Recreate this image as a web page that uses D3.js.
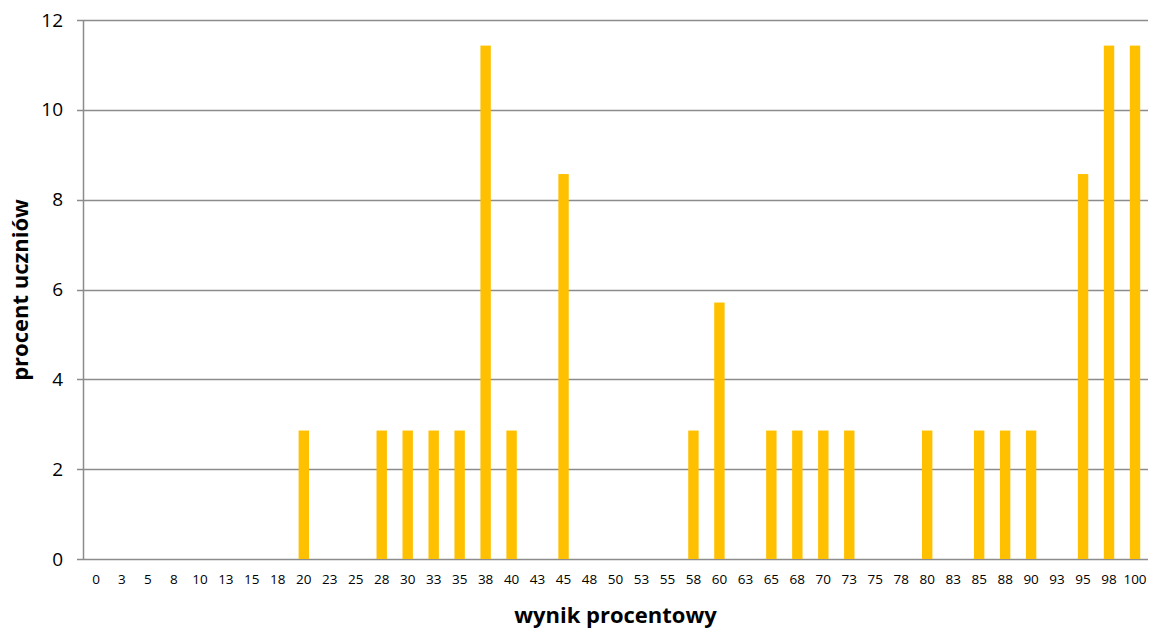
<!DOCTYPE html>
<html>
<head>
<meta charset="utf-8">
<script src="https://cdn.jsdelivr.net/npm/d3@7"></script>
<style>
  body { margin: 0; background: #fff; }
  svg { display: block; font-family: "Open Sans", Calibri, sans-serif; }
</style>
</head>
<body>
<div id="chart"></div>
<script>
// wynik procentowy (x categories)
var categories = ["0","3","5","8","10","13","15","18","20","23","25","28","30","33","35","38","40","43","45","48","50","53","55","58","60","63","65","68","70","73","75","78","80","83","85","88","90","93","95","98","100"];
// procent uczniów
var values = [0,0,0,0,0,0,0,0,2.86,0,0,2.86,2.86,2.86,2.86,11.43,2.86,0,8.57,0,0,0,0,2.86,5.71,0,2.86,2.86,2.86,2.86,0,0,2.86,0,2.86,2.86,2.86,0,8.57,11.43,11.43];
var yTicks = [0, 2, 4, 6, 8, 10, 12];

var width = 1151, height = 628;
var margin = { top: 20, right: 3, bottom: 69, left: 83 };
var innerW = width - margin.left - margin.right,
  innerH = height - margin.top - margin.bottom;

var svg = d3
  .select("#chart")
  .append("svg")
  .attr("width", width)
  .attr("height", height);

var g = svg
  .append("g")
  .attr("transform", "translate(" + margin.left + "," + margin.top + ")");

var x = d3.scaleBand().domain(categories).range([0, innerW]).paddingInner(0.6).paddingOuter(0.3);
var y = d3.scaleLinear().domain([0, 12]).range([innerH, 0]);

// gridlines
g.append("g")
  .selectAll("line")
  .data(yTicks)
  .enter()
  .append("line")
  .attr("x1", -6)
  .attr("x2", innerW)
  .attr("y1", (d) => Math.round(y(d)) + 0.5)
  .attr("y2", (d) => Math.round(y(d)) + 0.5)
  .attr("stroke", "#8c8c8c")
  .attr("stroke-width", 1.5);

// y axis line
g.append("line")
  .attr("x1", 0.5)
  .attr("x2", 0.5)
  .attr("y1", 0)
  .attr("y2", innerH)
  .attr("stroke", "#8c8c8c")
  .attr("stroke-width", 1.5);

// bars
g.selectAll(".bar")
  .data(values)
  .enter()
  .append("rect")
  .attr("class", "bar")
  .attr("x", (d, i) => x(categories[i]))
  .attr("width", x.bandwidth())
  .attr("y", (d) => y(d))
  .attr("height", (d) => innerH - y(d))
  .attr("fill", "#ffc000");

// y tick labels
var yAxis = d3.axisLeft(y).tickValues(yTicks).tickSize(0).tickPadding(20);
g.append("g")
  .call(yAxis)
  .call((s) => s.select(".domain").remove())
  .selectAll("text")
  .attr("font-size", 19)
  .attr("font-family", "'Open Sans', sans-serif")
  .attr("fill", "#000");

// x tick labels
var xAxis = d3.axisBottom(x).tickSize(0).tickPadding(15);
g.append("g")
  .attr("transform", "translate(0," + innerH + ")")
  .call(xAxis)
  .call((s) => s.select(".domain").remove())
  .selectAll("text")
  .attr("font-size", 13.5)
  .attr("font-family", "'Open Sans', sans-serif")
  .attr("fill", "#000");

// axis titles
svg.append("text")
  .attr("x", margin.left + innerW / 2)
  .attr("y", 623)
  .attr("text-anchor", "middle")
  .attr("font-size", 22)
  .attr("font-weight", "bold")
  .text("wynik procentowy");

svg.append("text")
  .attr("transform", "translate(28,290) rotate(-90)")
  .attr("text-anchor", "middle")
  .attr("font-size", 22)
  .attr("font-weight", "bold")
  .text("procent uczniów");
</script>
</body>
</html>
